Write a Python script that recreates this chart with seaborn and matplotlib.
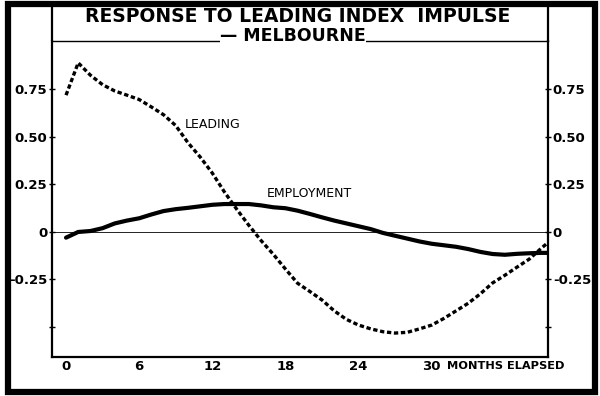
"""
Response to leading index impulse - Melbourne.
Impulse response of employment vs the leading index, months elapsed.
"""

import matplotlib.pyplot as plt
from matplotlib.lines import Line2D
from matplotlib.patches import Rectangle
import pandas as pd
import seaborn as sns

MONTHS = list(range(40)) + [39.5]

LEADING = [
    0.72, 0.89, 0.825, 0.775, 0.742, 0.72, 0.697, 0.658, 0.617, 0.56,
    0.47, 0.395, 0.31, 0.21, 0.12, 0.035, -0.045, -0.117, -0.195, -0.27,
    -0.313, -0.358, -0.415, -0.46, -0.49, -0.51, -0.525, -0.532, -0.528, -0.51,
    -0.49, -0.455, -0.415, -0.375, -0.325, -0.268, -0.228, -0.185, -0.143, -0.085,
    -0.058,
]

EMPLOYMENT = [
    -0.03, 0.0, 0.005, 0.02, 0.045, 0.06, 0.072, 0.092, 0.11, 0.12,
    0.127, 0.135, 0.143, 0.147, 0.147, 0.147, 0.14, 0.13, 0.125, 0.112,
    0.095, 0.077, 0.06, 0.045, 0.03, 0.015, -0.005, -0.02, -0.035, -0.05,
    -0.062, -0.07, -0.078, -0.09, -0.105, -0.116, -0.12, -0.115, -0.112, -0.11,
    -0.11,
]

X_TICKS = [0, 6, 12, 18, 24, 30]
Y_TICKS = [-0.5, -0.25, 0, 0.25, 0.5, 0.75]
Y_TICK_LABELS = ["", "-0.25", "0", "0.25", "0.50", "0.75"]

sns.set_style("white")
plt.rcParams["font.family"] = ["DejaVu Sans"]
plt.rcParams.update({
    "text.color": "black",
    "axes.edgecolor": "black",
    "xtick.color": "black",
    "ytick.color": "black",
})

W, H = 600, 396


def px(x, y):
    # pixel position -> figure fraction
    return x / W, 1 - y / H


df = pd.DataFrame({"month": MONTHS, "leading": LEADING, "employment": EMPLOYMENT})

fig = plt.figure(figsize=(6, 3.96), dpi=100)
ax = fig.add_axes([52 / W, 1 - 357 / H, 496 / W, 316 / H])

sns.lineplot(data=df, x="month", y="leading", ax=ax, color="black",
             linewidth=2.4, linestyle=(0, (1.3, 0.8)))
sns.lineplot(data=df, x="month", y="employment", ax=ax, color="black",
             linewidth=3.0, solid_capstyle="round")
ax.axhline(0, color="black", linewidth=0.6)

ax.set_xlim(-1.15, 39.54)
ax.set_ylim(-0.658, 1.005)
ax.set_xlabel("")
ax.set_ylabel("")

ax.set_xticks(X_TICKS)
ax.set_xticks(range(0, 40), minor=True)
ax.set_xticklabels([str(t) for t in X_TICKS], fontweight="bold", fontsize=9.5)
ax.tick_params(axis="x", which="major", direction="in", length=9, width=1, pad=2)
ax.tick_params(axis="x", which="minor", direction="in", length=3.5, width=0.8)

ax.set_yticks(Y_TICKS)
ax.set_yticklabels(Y_TICK_LABELS, fontweight="bold", fontsize=9.5)
ax.tick_params(axis="y", direction="inout", length=5, width=1, pad=1,
               left=True, right=True, labelleft=True, labelright=True)

for side in ["left", "right", "bottom"]:
    ax.spines[side].set_linewidth(1.6)
ax.spines["top"].set_linewidth(1.0)

ax.text(12.06, 0.563, "LEADING", fontsize=9, ha="center", va="center")
ax.text(20.0, 0.205, "EMPLOYMENT", fontsize=9, ha="center", va="center")

# title box: side spines run up to the outer frame
for xp in (52, 548):
    x0, y0 = px(xp, 41)
    _, y1 = px(xp, 3)
    fig.add_artist(Line2D([x0, x0], [y0, y1], color="black", linewidth=1.6))

tx, ty = px(298, 17)
fig.text(tx, ty, "RESPONSE TO LEADING INDEX  IMPULSE", fontsize=13.5,
         fontweight="bold", ha="center", va="center")
tx, ty = px(293, 36)
fig.text(tx, ty, "\u2014 MELBOURNE", fontsize=12.5, fontweight="bold",
         ha="center", va="center",
         bbox=dict(facecolor="white", edgecolor="none", pad=0.3))

tx, ty = px(506, 366)
fig.text(tx, ty, "MONTHS ELAPSED", fontsize=8.2, fontweight="bold",
         ha="center", va="center")

fig.add_artist(Rectangle((7.5 / W, 4 / H), 587.5 / W, 388 / H,
                         transform=fig.transFigure, fill=False,
                         edgecolor="black", linewidth=4.5))

fig.savefig("out.png", dpi=100)
